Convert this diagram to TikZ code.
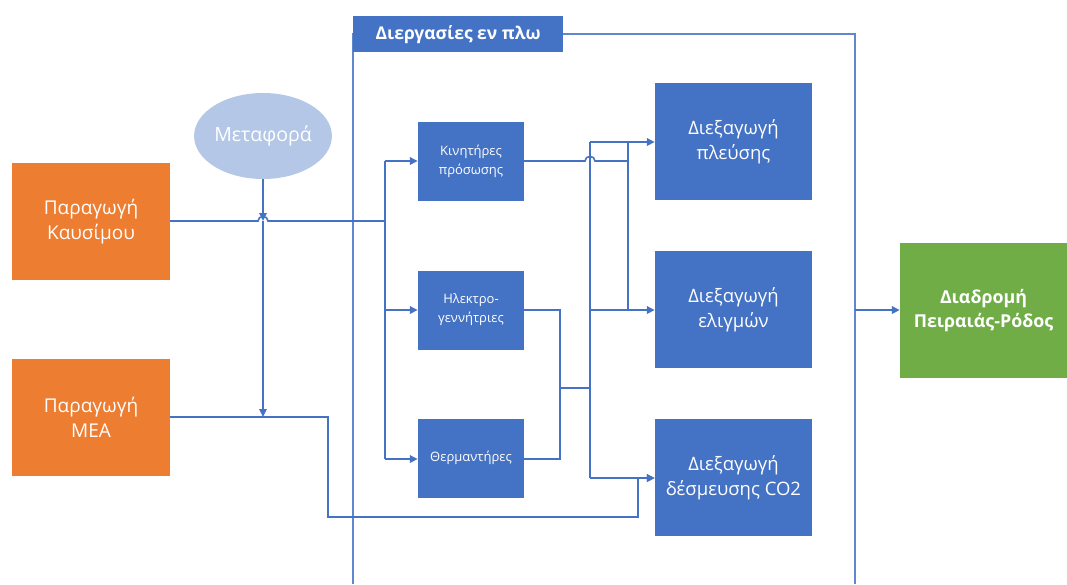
\documentclass[tikz,border=0pt]{standalone}
\usepackage{fontspec}
\setmainfont{Open Sans}
\usetikzlibrary{arrows.meta,shapes.geometric}
\definecolor{cblue}{HTML}{4472C4}
\definecolor{corange}{HTML}{ED7D31}
\definecolor{cgreen}{HTML}{70AD47}
\definecolor{clight}{HTML}{B4C7E7}
\begin{document}
\begin{tikzpicture}[x=1pt,y=-1pt,
  box/.style={rectangle,draw=none,text=white,align=center,inner sep=0pt},
  bigbox/.style={box,fill=cblue,minimum width=157pt,minimum height=117pt,font=\fontsize{18.5}{25}\selectfont},
  smallbox/.style={box,fill=cblue,minimum width=106pt,minimum height=79pt,font=\fontsize{13}{19}\selectfont},
  orbox/.style={box,fill=corange,minimum width=158pt,minimum height=117pt,font=\fontsize{19}{25}\selectfont},
  conn/.style={draw=cblue,line width=1.6pt},
  arr/.style={conn,-{Triangle[length=8pt,width=7.5pt]}},
  framestyle/.style={draw=cblue!85,line width=1.2pt}
]
\useasboundingbox (0,0) rectangle (1067,584);
% frame
\draw[framestyle] (353,584) -- (353,34) -- (855,34) -- (855,584);
\node[box,fill=cblue,minimum width=210pt,minimum height=36pt,anchor=north west,font=\bfseries\fontsize{17.5}{20}\selectfont] (title) at (353,16) {Διεργασίες εν πλω};
% nodes
\node[orbox] (fuel) at (91,221.5) {Παραγωγή\\Καυσίμου};
\node[orbox] (mea) at (91,417) {Παραγωγή\\ΜΕΑ};
\node[ellipse,fill=clight,draw=none,text=white,minimum width=130pt,minimum height=86pt,inner sep=0pt,font=\fontsize{19.5}{22}\selectfont] (trans) at (263,136) {Μεταφορά};
\node[smallbox] (kin) at (471,161) {Κινητήρες\\πρόσωσης};
\node[smallbox] (gen) at (471,310) {Ηλεκτρο-\\γεννήτριες};
\node[smallbox] (heat) at (471,458) {Θερμαντήρες};
\node[bigbox] (pl) at (733.5,141.5) {Διεξαγωγή\\πλεύσης};
\node[bigbox] (el) at (733.5,309.5) {Διεξαγωγή\\ελιγμών};
\node[bigbox] (co2) at (733.5,477.5) {Διεξαγωγή\\δέσμευσης CO2};
\node[box,fill=cgreen,minimum width=167pt,minimum height=135pt,font=\bfseries\fontsize{17.8}{24}\selectfont] (route) at (983.5,310.5) {Διαδρομή\\Πειραιάς-Ρόδος};
% coordinates
\coordinate (h1) at (258,221);
\coordinate (h2) at (268,221);
\coordinate (bt) at (385,161);
\coordinate (bf) at (385,221);
\coordinate (bg) at (385,310);
\coordinate (bh) at (385,459);
\coordinate (tm) at (263,221);
\coordinate (tl) at (263,417);
\coordinate (m1) at (328,417);
\coordinate (m2) at (328,517);
\coordinate (m3) at (638,517);
\coordinate (m4) at (638,478);
\coordinate (k1) at (585,161);
\coordinate (k2) at (595,161);
\coordinate (k3) at (628,161);
\coordinate (ka) at (628,142);
\coordinate (kb) at (628,310);
\coordinate (va) at (590,142);
\coordinate (vb) at (590,310);
\coordinate (vc) at (590,478);
\coordinate (vm) at (590,388);
\coordinate (g1) at (560,310);
\coordinate (g2) at (560,459);
\coordinate (gm) at (560,388);
\coordinate (fr) at (855,310);
% fuel line with hop
\draw[conn] (fuel.east |- h1) -- (h1) .. controls (258,215) and (268,215) .. (h2) -- (bf);
% transport arrows
\draw[arr] (trans.south) -- (tm);
\draw[arr] (tm) -- (tl);
% MEA line
\draw[conn] (mea.east |- tl) -- (m1) -- (m2) -- (m3) -- (m4);
\draw[arr] (m4) -- (co2.west |- m4);
% bus
\draw[conn] (bt) -- (bh);
\draw[arr] (bt) -- (kin.west |- bt);
\draw[arr] (bg) -- (gen.west |- bg);
\draw[arr] (bh) -- (heat.west |- bh);
% engines output with hop
\draw[conn] (kin.east |- k1) -- (k1) .. controls (585,155) and (595,155) .. (k2) -- (k3);
\draw[conn] (ka) -- (kb);
% vertical 590
\draw[conn] (va) -- (vc);
\draw[arr] (va) -- (pl.west |- va);
\draw[arr] (vb) -- (el.west |- vb);
\draw[arr] (vc) -- (co2.west |- vc);
% generators and heaters
\draw[conn] (gen.east |- g1) -- (g1) -- (g2) -- (heat.east |- g2);
\draw[conn] (gm) -- (vm);
% frame to route
\draw[arr] (fr) -- (route.west |- fr);
\end{tikzpicture}
\end{document}
